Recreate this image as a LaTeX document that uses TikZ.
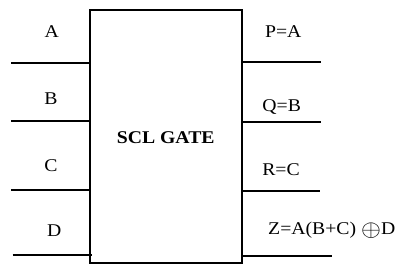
\documentclass[tikz,border=0pt]{standalone}
\usepackage{fontspec}
\usepackage{graphicx}
\setmainfont{Liberation Serif}
\begin{document}
\begin{tikzpicture}[x=1bp,y=-1bp,
  wire/.style={line width=1.7bp},
  lbl/.style={font=\fontsize{18}{21}\selectfont, xscale=1.1, inner sep=0pt},
  gate/.style={draw, line width=2bp, minimum width=152bp, minimum height=253bp, inner sep=0pt}]
\useasboundingbox (0,0) rectangle (403,271);
\fill[white] (0,0) rectangle (403,271);
\node[gate] (g) at (165.8,136) {};
\node[lbl, font=\bfseries\fontsize{18}{21}\selectfont] (t) at (165.7,137.5) {SCL GATE};
% input wire endpoints
\coordinate (a0) at (11,62.7);  \coordinate (a1) at (89.7,62.7);
\coordinate (b0) at (11,121.3); \coordinate (b1) at (89.7,121.3);
\coordinate (c0) at (11,190.3); \coordinate (c1) at (89.7,190.3);
\coordinate (d0) at (12.7,255.3); \coordinate (d1) at (92,255.3);
% output wire endpoints
\coordinate (p0) at (242,62); \coordinate (p1) at (321,62);
\coordinate (q0) at (242,122); \coordinate (q1) at (321,122);
\coordinate (r0) at (242,191); \coordinate (r1) at (320,191);
\coordinate (z0) at (242,255.7); \coordinate (z1) at (332,255.7);
\draw[wire] (a0) -- (a1);
\draw[wire] (b0) -- (b1);
\draw[wire] (c0) -- (c1);
\draw[wire] (d0) -- (d1);
\draw[wire] (p0) -- (p1);
\draw[wire] (q0) -- (q1);
\draw[wire] (r0) -- (r1);
\draw[wire] (z0) -- (z1);
\node[lbl] (la) at (51.7,31.5) {A};
\node[lbl] (lb) at (51,99) {B};
\node[lbl] (lc) at (51,165.5) {C};
\node[lbl] (ld) at (54.3,230.5) {D};
\node[lbl] (lp) at (283.3,31.5) {P=A};
\node[lbl] (lq) at (281.7,107.5) {Q=B};
\node[lbl] (lr) at (281,170) {R=C};
\node[lbl, anchor=west] (lz) at (268,230.5) {Z=A(B+C) \raisebox{-0.12em}{\scalebox{1.35}{$\oplus$}}D};
\end{tikzpicture}
\end{document}
